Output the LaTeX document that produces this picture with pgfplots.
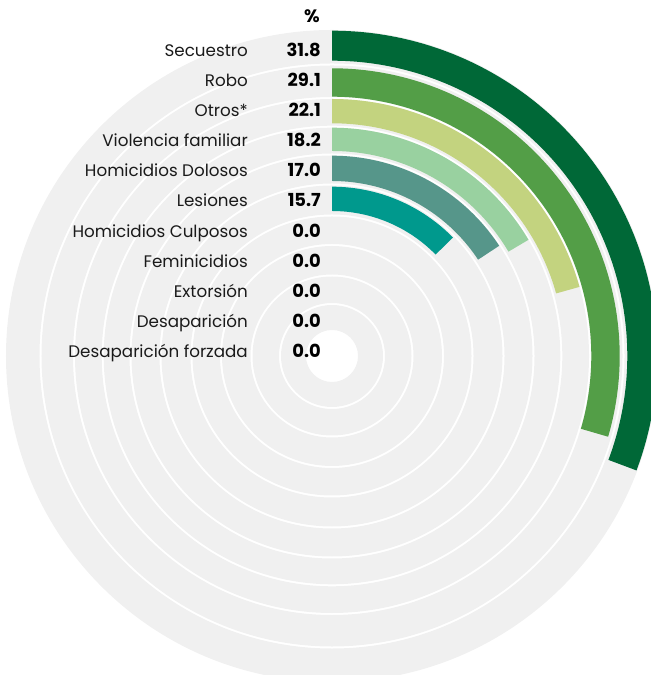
\documentclass[border=0pt]{standalone}
\usepackage{pgfplots}
\pgfplotsset{compat=1.18}
\usepackage{pgfplotstable}
\usepackage{fontspec}
\setmainfont{Poppins}
\definecolor{cSec}{HTML}{006837}
\definecolor{cRob}{HTML}{539E47}
\definecolor{cOtr}{HTML}{C3D37F}
\definecolor{cVio}{HTML}{99D1A0}
\definecolor{cHD}{HTML}{56968A}
\definecolor{cLes}{HTML}{00998D}
\definecolor{cBG}{HTML}{F0F0F0}
\definecolor{txt}{HTML}{1A1A1A}

% annular sector drawn around the data point, clockwise from 12 o'clock
\pgfdeclareplotmark{arcbar}{%
  \pgfmathsetmacro\arcend{90-\bardeg}%
  \pgfpathmoveto{\pgfpointpolar{90}{\barout bp}}%
  \pgfpatharc{90}{\arcend}{\barout bp}%
  \pgfpathlineto{\pgfpointpolar{\arcend}{\barin bp}}%
  \pgfpatharc{\arcend}{90}{\barin bp}%
  \pgfpathclose
  \pgfusepathqfill
}

% background rings (full circles)
\pgfplotstableread{
x y rin rout deg cls
0 0 26.0 51.0 360 g
0 0 53.0 79.5 360 g
0 0 81.5 110.0 360 g
0 0 112.0 139.5 360 g
0 0 141.5 170.5 360 g
0 0 172.5 200.5 360 g
0 0 202.5 228.3 360 g
0 0 230.3 257.0 360 g
0 0 259.0 290.5 360 g
0 0 292.5 326.0 360 g
}\rings

% bars: sweep in degrees as drawn
\pgfplotstableread{
x y rin rout deg cls
0 0 295.3 325.3 110.6 sec
0 0 259.3 287.7 106.3 rob
0 0 232.7 257.0 74.4 otr
0 0 205.0 228.3 59.4 vio
0 0 175.0 200.3 56.6 hd
0 0 145.0 169.3 45.6 les
}\bars

\pgfplotsset{arcbars/.style={
  scatter, only marks, mark=arcbar, scatter src=explicit symbolic,
  visualization depends on={\thisrow{rin}\as\barin},
  visualization depends on={\thisrow{rout}\as\barout},
  visualization depends on={\thisrow{deg}\as\bardeg}}}

\begin{document}
\begin{tikzpicture}
\begin{axis}[
  x=1bp, y=1bp,
  xmin=-332, xmax=319, ymin=-319, ymax=356,
  hide axis,
  clip=false,
]
\addplot[arcbars, scatter/classes={g={cBG}}] table[x=x,y=y,meta=cls] {\rings};
\addplot[arcbars,
  scatter/classes={sec={cSec},rob={cRob},otr={cOtr},vio={cVio},hd={cHD},les={cLes}}]
  table[x=x,y=y,meta=cls] {\bars};
\coordinate (o) at (axis cs:0,0);
\coordinate (sw) at (axis cs:-332,-319);
\coordinate (ne) at (axis cs:319,356);
\end{axis}
\begin{scope}[shift={(o)}, x=1bp, y=1bp]
\begin{scope}[every node/.style={inner sep=0pt, text=txt, font=\fontsize{16.8}{18}\selectfont}]
\node[anchor=base east] at (-84,299.5) {Secuestro};
\node[anchor=base east] at (-84,269.5) {Robo};
\node[anchor=base east] at (-84,239.5) {Otros*};
\node[anchor=base east] at (-84,209.5) {Violencia familiar};
\node[anchor=base east] at (-84,179.5) {Homicidios Dolosos};
\node[anchor=base east] at (-84,149.5) {Lesiones};
\node[anchor=base east] at (-84,118.5) {Homicidios Culposos};
\node[anchor=base east] at (-84,88.5) {Feminicidios};
\node[anchor=base east] at (-84,58.5) {Extorsión};
\node[anchor=base east] at (-84,28.5) {Desaparición};
\node[anchor=base east] at (-84,-1.5) {Desaparición forzada};
\end{scope}
\begin{scope}[every node/.style={inner sep=0pt, text=black, font=\fontsize{18}{19}\selectfont\bfseries}]
\node[anchor=base] at (-20,333) {\%};
\node[anchor=base east] at (-11,299.5) {31.8};
\node[anchor=base east] at (-11,269.5) {29.1};
\node[anchor=base east] at (-11,239.5) {22.1};
\node[anchor=base east] at (-11,209.5) {18.2};
\node[anchor=base east] at (-11,179.5) {17.0};
\node[anchor=base east] at (-11,149.5) {15.7};
\node[anchor=base east] at (-11,118.5) {0.0};
\node[anchor=base east] at (-11,88.5) {0.0};
\node[anchor=base east] at (-11,58.5) {0.0};
\node[anchor=base east] at (-11,28.5) {0.0};
\node[anchor=base east] at (-11,-1.5) {0.0};
\end{scope}
\end{scope}
\pgfresetboundingbox
\path[use as bounding box] (sw) rectangle (ne);
\end{tikzpicture}
\end{document}
